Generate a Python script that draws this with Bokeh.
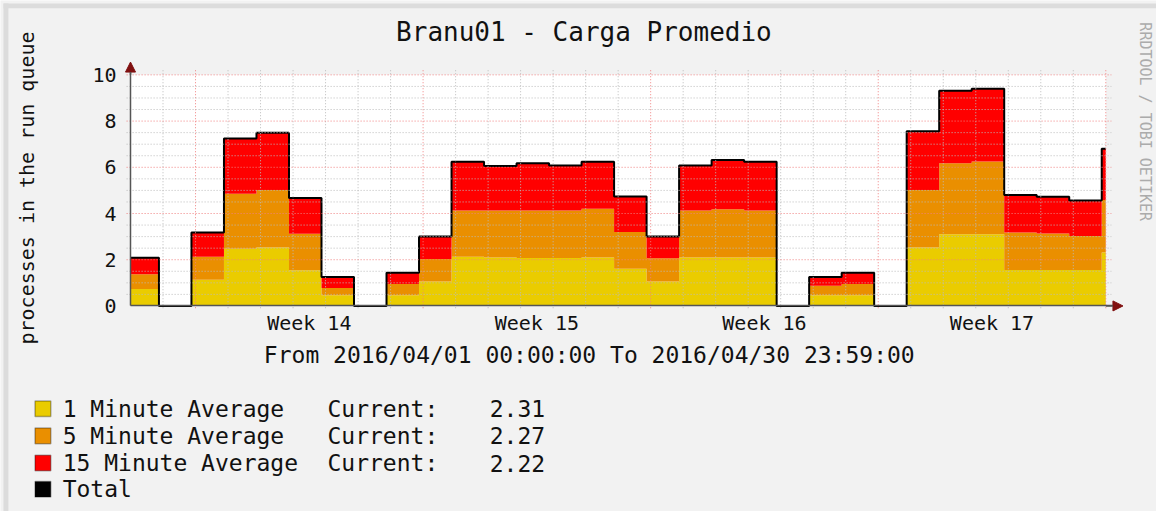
import math
from bokeh.plotting import figure
from bokeh.models import (ColumnDataSource, Range1d, FixedTicker, Label, Arrow, NormalHead,
                          BoxAnnotation)
from bokeh.embed import file_html
from bokeh.resources import INLINE

# ---------------- data (days since 2016-04-01 00:00, daily consolidated steps) -------------
step_start = [0.0] + [0.875 + k for k in range(30)]     # 31 steps
range_end = 30.0
load_1min = [0.73, 0.00, 1.13, 2.48, 2.53, 1.54, 0.46, 0.00, 0.46, 1.06,
             2.13, 2.10, 2.07, 2.07, 2.10, 1.61, 1.06, 2.10, 2.10, 2.10,
             0.00, 0.46, 0.46, 0.00, 2.53, 3.10, 3.10, 1.55, 1.55, 1.55, 2.31]
load_5min = [0.64, 0.00, 1.00, 2.38, 2.49, 1.58, 0.32, 0.00, 0.49, 0.97,
             2.00, 2.03, 2.06, 2.06, 2.11, 1.59, 1.00, 2.03, 2.08, 2.03,
             0.00, 0.41, 0.49, 0.00, 2.49, 3.07, 3.15, 1.63, 1.58, 1.48, 2.27]
load_15min = [0.72, 0.00, 1.05, 2.39, 2.48, 1.55, 0.47, 0.00, 0.49, 0.98,
              2.11, 1.93, 2.04, 1.95, 2.03, 1.54, 0.95, 1.95, 2.14, 2.11,
              0.00, 0.38, 0.49, 0.00, 2.54, 3.14, 3.15, 1.62, 1.60, 1.53, 2.22]
current = ["2.31", "2.27", "2.22"]
series_names = ["1 Minute Average", "5 Minute Average", "15 Minute Average"]
series_colors = ["#EACC00", "#EA8F00", "#FF0000"]
week_tick_pos = [5.5, 12.5, 19.5, 26.5]
week_labels = ["Week 14", "Week 15", "Week 16", "Week 17"]
y_major = [0, 2, 4, 6, 8, 10]
y_max = 10.0
title_text = "Branu01 - Carga Promedio"
comment_text = "From 2016/04/01 00:00:00 To 2016/04/30 23:59:00"
ylabel_text = "processes in the run queue"
watermark_text = "RRDTOOL / TOBI OETIKER"

# ---------------- expand to step shape ----------------
step_end = step_start[1:] + [range_end]
xs = []
for s, e in zip(step_start, step_end):
    xs += [s, e]

def expand(v):
    out = []
    for a in v:
        out += [a, a]
    return out

total = [a + b + c for a, b, c in zip(load_1min, load_5min, load_15min)]
src = ColumnDataSource(dict(x=xs, one=expand(load_1min), five=expand(load_5min),
                            fifteen=expand(load_15min), total=expand(total)))

# ---------------- geometry: the frame fills the whole canvas ----------------
W, H = 1156, 511
SX, SY = W / 1172.0, H / 527.0          # reference layout -> canvas
OX, OY = 131.8 * SX, 315.0 * SY         # pixel position of (0, 0)
KX = 32.96 * SX                         # pixels per day
KY = 23.83 * SY                         # pixels per unit of load

def X(rx):   # reference pixel x -> data x
    return (rx * SX - OX) / KX

def Y(ry):   # reference pixel y -> data y
    return (OY - ry * SY) / KY

BG = "#F2F2F2"
FONT = "DejaVu Sans Mono"
TXT = "#111111"
AXC = "#555555"

p = figure(frame_width=W, frame_height=H, output_backend="svg", toolbar_location=None,
           x_range=Range1d(-OX / KX, (W - OX) / KX), y_range=Range1d(-(H - OY) / KY, OY / KY),
           min_border=0, background_fill_color=BG, border_fill_color=BG,
           outline_line_color=None)
p.grid.visible = False

# rrdtool image shade border
p.add_layout(BoxAnnotation(left=X(3), right=X(1172), top=Y(3), bottom=Y(8),
                           fill_color="#DCDCDC", fill_alpha=1.0, line_color=None, level="underlay"))
p.add_layout(BoxAnnotation(left=X(3), right=X(8), top=Y(3), bottom=Y(527),
                           fill_color="#DCDCDC", fill_alpha=1.0, line_color=None, level="underlay"))

# white canvas of the graph area
p.add_layout(BoxAnnotation(left=0, right=range_end, bottom=0, top=y_max,
                           fill_color="white", fill_alpha=1.0, line_color=None,
                           level="underlay"))

# stacked areas + total line
p.varea_stack(["one", "five", "fifteen"], x="x", color=series_colors, source=src)
p.line("x", "total", source=src, line_color="black", line_width=2)

# grid (dotted, over the areas, slightly overshooting like rrdtool)
days_major = [2, 9, 16, 23, 30]
days_minor = [d for d in range(1, 30) if d not in days_major]
y_minor = [i * 0.5 for i in range(1, 20) if (i * 0.5) not in y_major]
for ticks, col in [(days_minor, "#BBBBBB"), (days_major, "#F08080")]:
    p.segment(x0=ticks, x1=ticks, y0=[-0.1] * len(ticks), y1=[y_max + 0.2] * len(ticks),
              line_color=col, line_dash="1 2", line_width=1)
for ticks, col in [(y_minor, "#BBBBBB"), (y_major[1:], "#F08080")]:
    p.segment(y0=ticks, y1=ticks, x0=[-0.12] * len(ticks), x1=[range_end + 0.17] * len(ticks),
              line_color=col, line_dash="1 2", line_width=1)

# axes, pinned at the data origin
p.xaxis.fixed_location = 0
p.yaxis.fixed_location = 0
p.xaxis.ticker = FixedTicker(ticks=week_tick_pos, minor_ticks=[])
p.xaxis.major_label_overrides = {t: l for t, l in zip(week_tick_pos, week_labels)}
p.xaxis.major_tick_line_color = None
p.xaxis.minor_tick_line_color = None
p.xaxis.major_tick_out = 0
p.xaxis.major_tick_in = 0
p.xaxis.major_label_standoff = 5
p.xaxis.bounds = (0, 30.3)
p.yaxis.ticker = FixedTicker(ticks=y_major, minor_ticks=[])
p.yaxis.major_tick_out = 0
p.yaxis.major_tick_in = 0
p.yaxis.major_tick_line_color = None
p.yaxis.minor_tick_line_color = None
p.yaxis.major_label_standoff = 14
p.yaxis.bounds = (0, 10.2)
p.yaxis.axis_label = ylabel_text
p.yaxis.axis_label_standoff = 50
p.yaxis.axis_label_text_font_style = "normal"
p.yaxis.axis_label_text_font = FONT
p.yaxis.axis_label_text_font_size = "20px"
p.yaxis.axis_label_text_color = TXT
for ax in (p.xaxis, p.yaxis):
    ax.axis_line_color = AXC
    ax.axis_line_width = 1.5
    ax.major_label_text_font = FONT
    ax.major_label_text_font_size = "20px"
    ax.major_label_text_color = TXT

# axis arrows
ARROW = "#801010"
p.add_layout(Arrow(end=NormalHead(size=10, fill_color=ARROW, line_color=ARROW),
                   x_start=range_end, y_start=0, x_end=X(1138), y_end=0,
                   line_color=AXC, line_width=1.5))
p.add_layout(Arrow(end=NormalHead(size=10, fill_color=ARROW, line_color=ARROW),
                   x_start=0, y_start=y_max, x_end=0, y_end=Y(63.5),
                   line_color=AXC, line_width=1.5))

# title, comment and watermark
p.add_layout(Label(x=X(591.5), y=Y(33), text=title_text, text_font=FONT,
                   text_font_size="26px", text_align="center", text_baseline="middle",
                   text_color=TXT))
p.add_layout(Label(x=X(267), y=Y(365.5), text=comment_text, text_font=FONT,
                   text_font_size="23px", text_align="left", text_baseline="middle",
                   text_color=TXT))
p.add_layout(Label(x=X(1160), y=Y(125), text=watermark_text, text_font=FONT,
                   text_font_size="15px", text_align="center", text_baseline="middle",
                   text_color="#ABABAB", angle=-math.pi / 2))

# legend
row_y = [421, 449, 477, 504]
names = series_names + ["Total"]
cols = series_colors + ["#000000"]
for i, (nm, col, ry) in enumerate(zip(names, cols, row_y)):
    p.add_layout(BoxAnnotation(left=X(35), right=X(51), top=Y(ry - 8), bottom=Y(ry + 8),
                               fill_color=col, fill_alpha=1.0, line_color="black",
                               line_width=1.5))
    p.add_layout(Label(x=X(63), y=Y(ry), text=nm, text_font=FONT, text_font_size="23px",
                       text_baseline="middle", text_color=TXT))
    if i < 3:
        p.add_layout(Label(x=X(331.5), y=Y(ry), text="Current:", text_font=FONT,
                           text_font_size="23px", text_baseline="middle", text_color=TXT))
        p.add_layout(Label(x=X(496), y=Y(ry), text=current[i], text_font=FONT,
                           text_font_size="23px", text_baseline="middle", text_color=TXT))

open("out.html", "w").write(file_html(p, INLINE))
